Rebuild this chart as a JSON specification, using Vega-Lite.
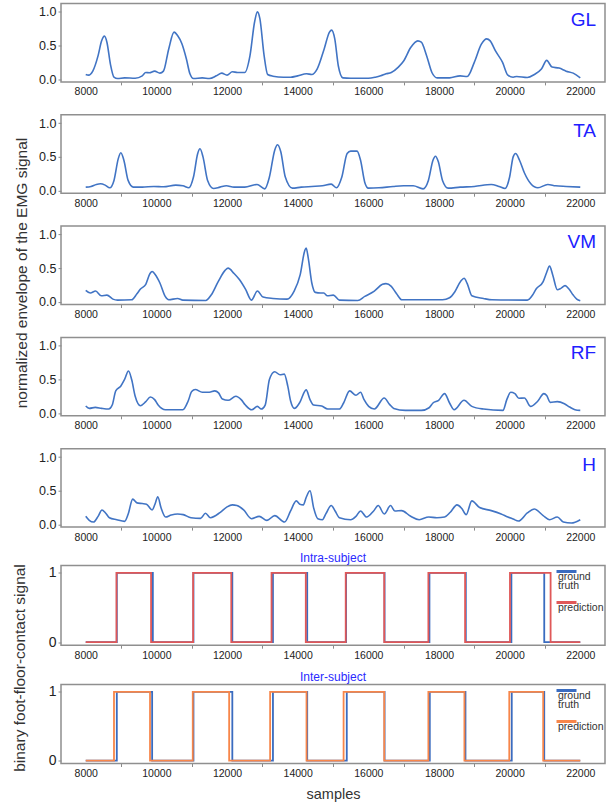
{
  "$schema": "https://vega.github.io/schema/vega-lite/v6.json",
  "background": "white",
  "padding": {"left": 12, "top": 2.5, "right": 0, "bottom": 0},
  "config": {
    "font": "Liberation Sans",
    "view": {"stroke": "#8f8f8f", "strokeWidth": 1.5},
    "axis": {"grid": false, "domain": false, "tickColor": "#8a8a8a", "tickSize": 3, "labelColor": "#222", "labelPadding": 2},
    "axisX": {"labelFontSize": 10.5, "labelOverlap": false, "labelFlush": false},
    "axisY": {"labelFontSize": 12.5},
    "title": {"fontWeight": "normal"},
    "style": {"guide-label": {"lineHeight": 9}}
  },
  "datasets": {
    "emg": [
      {"m":"GL","x":8000,"y":0.07},{"m":"GL","x":8080,"y":0.06},{"m":"GL","x":8200,"y":0.12},{"m":"GL","x":8350,"y":0.35},{"m":"GL","x":8450,"y":0.57},{"m":"GL","x":8530,"y":0.64},{"m":"GL","x":8600,"y":0.55},{"m":"GL","x":8700,"y":0.22},{"m":"GL","x":8800,"y":0.03},{"m":"GL","x":8900,"y":0.01},{"m":"GL","x":9100,"y":0.02},{"m":"GL","x":9400,"y":0.015},{"m":"GL","x":9600,"y":0.05},{"m":"GL","x":9700,"y":0.10},{"m":"GL","x":9800,"y":0.095},{"m":"GL","x":9950,"y":0.12},{"m":"GL","x":10100,"y":0.09},{"m":"GL","x":10200,"y":0.12},{"m":"GL","x":10350,"y":0.45},{"m":"GL","x":10500,"y":0.70},{"m":"GL","x":10600,"y":0.65},{"m":"GL","x":10720,"y":0.53},{"m":"GL","x":10850,"y":0.30},{"m":"GL","x":10950,"y":0.08},{"m":"GL","x":11050,"y":0.01},{"m":"GL","x":11300,"y":0.02},{"m":"GL","x":11500,"y":0.01},{"m":"GL","x":11700,"y":0.05},{"m":"GL","x":11850,"y":0.09},{"m":"GL","x":12000,"y":0.06},{"m":"GL","x":12150,"y":0.11},{"m":"GL","x":12300,"y":0.10},{"m":"GL","x":12500,"y":0.10},{"m":"GL","x":12650,"y":0.35},{"m":"GL","x":12780,"y":0.85},{"m":"GL","x":12860,"y":1.0},{"m":"GL","x":12930,"y":0.9},{"m":"GL","x":13050,"y":0.35},{"m":"GL","x":13150,"y":0.07},{"m":"GL","x":13300,"y":0.045},{"m":"GL","x":13600,"y":0.03},{"m":"GL","x":13800,"y":0.03},{"m":"GL","x":14000,"y":0.05},{"m":"GL","x":14250,"y":0.08},{"m":"GL","x":14400,"y":0.07},{"m":"GL","x":14550,"y":0.15},{"m":"GL","x":14750,"y":0.45},{"m":"GL","x":14900,"y":0.70},{"m":"GL","x":14960,"y":0.73},{"m":"GL","x":15050,"y":0.6},{"m":"GL","x":15150,"y":0.2},{"m":"GL","x":15280,"y":0.02},{"m":"GL","x":15500,"y":0.015},{"m":"GL","x":16000,"y":0.015},{"m":"GL","x":16200,"y":0.03},{"m":"GL","x":16350,"y":0.05},{"m":"GL","x":16500,"y":0.08},{"m":"GL","x":16650,"y":0.10},{"m":"GL","x":16850,"y":0.18},{"m":"GL","x":17000,"y":0.27},{"m":"GL","x":17200,"y":0.47},{"m":"GL","x":17400,"y":0.57},{"m":"GL","x":17500,"y":0.55},{"m":"GL","x":17650,"y":0.35},{"m":"GL","x":17800,"y":0.10},{"m":"GL","x":17950,"y":0.02},{"m":"GL","x":18300,"y":0.02},{"m":"GL","x":18600,"y":0.05},{"m":"GL","x":18800,"y":0.04},{"m":"GL","x":19000,"y":0.25},{"m":"GL","x":19200,"y":0.52},{"m":"GL","x":19350,"y":0.6},{"m":"GL","x":19450,"y":0.57},{"m":"GL","x":19600,"y":0.42},{"m":"GL","x":19800,"y":0.25},{"m":"GL","x":19950,"y":0.06},{"m":"GL","x":20100,"y":0.03},{"m":"GL","x":20200,"y":0.04},{"m":"GL","x":20500,"y":0.025},{"m":"GL","x":20700,"y":0.07},{"m":"GL","x":20900,"y":0.15},{"m":"GL","x":21050,"y":0.28},{"m":"GL","x":21200,"y":0.18},{"m":"GL","x":21400,"y":0.165},{"m":"GL","x":21600,"y":0.12},{"m":"GL","x":21800,"y":0.09},{"m":"GL","x":22000,"y":0.02},

      {"m":"TA","x":8000,"y":0.05},{"m":"TA","x":8150,"y":0.06},{"m":"TA","x":8300,"y":0.09},{"m":"TA","x":8420,"y":0.10},{"m":"TA","x":8550,"y":0.08},{"m":"TA","x":8680,"y":0.04},{"m":"TA","x":8800,"y":0.15},{"m":"TA","x":8920,"y":0.47},{"m":"TA","x":8994,"y":0.56},{"m":"TA","x":9080,"y":0.45},{"m":"TA","x":9200,"y":0.15},{"m":"TA","x":9350,"y":0.05},{"m":"TA","x":9600,"y":0.05},{"m":"TA","x":9930,"y":0.06},{"m":"TA","x":10200,"y":0.055},{"m":"TA","x":10550,"y":0.08},{"m":"TA","x":10750,"y":0.07},{"m":"TA","x":10920,"y":0.04},{"m":"TA","x":11050,"y":0.2},{"m":"TA","x":11170,"y":0.55},{"m":"TA","x":11235,"y":0.62},{"m":"TA","x":11320,"y":0.5},{"m":"TA","x":11450,"y":0.15},{"m":"TA","x":11620,"y":0.03},{"m":"TA","x":11800,"y":0.05},{"m":"TA","x":11980,"y":0.07},{"m":"TA","x":12200,"y":0.05},{"m":"TA","x":12500,"y":0.05},{"m":"TA","x":12850,"y":0.09},{"m":"TA","x":13070,"y":0.025},{"m":"TA","x":13200,"y":0.2},{"m":"TA","x":13350,"y":0.6},{"m":"TA","x":13430,"y":0.68},{"m":"TA","x":13520,"y":0.58},{"m":"TA","x":13650,"y":0.2},{"m":"TA","x":13850,"y":0.035},{"m":"TA","x":14100,"y":0.05},{"m":"TA","x":14400,"y":0.06},{"m":"TA","x":14700,"y":0.07},{"m":"TA","x":14950,"y":0.095},{"m":"TA","x":15100,"y":0.04},{"m":"TA","x":15250,"y":0.2},{"m":"TA","x":15400,"y":0.55},{"m":"TA","x":15500,"y":0.585},{"m":"TA","x":15680,"y":0.585},{"m":"TA","x":15780,"y":0.45},{"m":"TA","x":15900,"y":0.12},{"m":"TA","x":16000,"y":0.035},{"m":"TA","x":16300,"y":0.04},{"m":"TA","x":16700,"y":0.06},{"m":"TA","x":17000,"y":0.07},{"m":"TA","x":17270,"y":0.07},{"m":"TA","x":17550,"y":0.025},{"m":"TA","x":17700,"y":0.15},{"m":"TA","x":17830,"y":0.45},{"m":"TA","x":17900,"y":0.51},{"m":"TA","x":17980,"y":0.43},{"m":"TA","x":18100,"y":0.15},{"m":"TA","x":18260,"y":0.035},{"m":"TA","x":18600,"y":0.05},{"m":"TA","x":19000,"y":0.06},{"m":"TA","x":19480,"y":0.09},{"m":"TA","x":19700,"y":0.06},{"m":"TA","x":19870,"y":0.03},{"m":"TA","x":20000,"y":0.2},{"m":"TA","x":20100,"y":0.5},{"m":"TA","x":20170,"y":0.55},{"m":"TA","x":20280,"y":0.45},{"m":"TA","x":20420,"y":0.26},{"m":"TA","x":20600,"y":0.1},{"m":"TA","x":20800,"y":0.04},{"m":"TA","x":21080,"y":0.09},{"m":"TA","x":21300,"y":0.07},{"m":"TA","x":21600,"y":0.06},{"m":"TA","x":22000,"y":0.05},

      {"m":"VM","x":8000,"y":0.17},{"m":"VM","x":8130,"y":0.13},{"m":"VM","x":8280,"y":0.16},{"m":"VM","x":8440,"y":0.09},{"m":"VM","x":8600,"y":0.10},{"m":"VM","x":8770,"y":0.04},{"m":"VM","x":8900,"y":0.025},{"m":"VM","x":9300,"y":0.03},{"m":"VM","x":9450,"y":0.12},{"m":"VM","x":9550,"y":0.19},{"m":"VM","x":9700,"y":0.26},{"m":"VM","x":9820,"y":0.42},{"m":"VM","x":9880,"y":0.45},{"m":"VM","x":9960,"y":0.41},{"m":"VM","x":10100,"y":0.28},{"m":"VM","x":10250,"y":0.08},{"m":"VM","x":10350,"y":0.03},{"m":"VM","x":10600,"y":0.05},{"m":"VM","x":10750,"y":0.025},{"m":"VM","x":11400,"y":0.02},{"m":"VM","x":11550,"y":0.1},{"m":"VM","x":11750,"y":0.3},{"m":"VM","x":11950,"y":0.47},{"m":"VM","x":12030,"y":0.5},{"m":"VM","x":12200,"y":0.42},{"m":"VM","x":12350,"y":0.33},{"m":"VM","x":12530,"y":0.18},{"m":"VM","x":12690,"y":0.025},{"m":"VM","x":12860,"y":0.16},{"m":"VM","x":13020,"y":0.07},{"m":"VM","x":13300,"y":0.05},{"m":"VM","x":13700,"y":0.04},{"m":"VM","x":13900,"y":0.16},{"m":"VM","x":14070,"y":0.4},{"m":"VM","x":14200,"y":0.76},{"m":"VM","x":14240,"y":0.8},{"m":"VM","x":14300,"y":0.65},{"m":"VM","x":14400,"y":0.28},{"m":"VM","x":14500,"y":0.14},{"m":"VM","x":14650,"y":0.13},{"m":"VM","x":14740,"y":0.13},{"m":"VM","x":14840,"y":0.09},{"m":"VM","x":15010,"y":0.10},{"m":"VM","x":15180,"y":0.025},{"m":"VM","x":15700,"y":0.02},{"m":"VM","x":15900,"y":0.08},{"m":"VM","x":16170,"y":0.16},{"m":"VM","x":16400,"y":0.26},{"m":"VM","x":16500,"y":0.27},{"m":"VM","x":16650,"y":0.23},{"m":"VM","x":16800,"y":0.12},{"m":"VM","x":16950,"y":0.03},{"m":"VM","x":17500,"y":0.03},{"m":"VM","x":18100,"y":0.03},{"m":"VM","x":18300,"y":0.06},{"m":"VM","x":18450,"y":0.15},{"m":"VM","x":18620,"y":0.31},{"m":"VM","x":18710,"y":0.35},{"m":"VM","x":18800,"y":0.27},{"m":"VM","x":18930,"y":0.09},{"m":"VM","x":19260,"y":0.05},{"m":"VM","x":19500,"y":0.03},{"m":"VM","x":20500,"y":0.025},{"m":"VM","x":20650,"y":0.1},{"m":"VM","x":20750,"y":0.19},{"m":"VM","x":20950,"y":0.3},{"m":"VM","x":21050,"y":0.44},{"m":"VM","x":21130,"y":0.53},{"m":"VM","x":21220,"y":0.4},{"m":"VM","x":21350,"y":0.18},{"m":"VM","x":21450,"y":0.2},{"m":"VM","x":21570,"y":0.24},{"m":"VM","x":21680,"y":0.19},{"m":"VM","x":21800,"y":0.1},{"m":"VM","x":21900,"y":0.04},{"m":"VM","x":22000,"y":0.015},

      {"m":"RF","x":8000,"y":0.105},{"m":"RF","x":8100,"y":0.07},{"m":"RF","x":8270,"y":0.085},{"m":"RF","x":8450,"y":0.07},{"m":"RF","x":8650,"y":0.06},{"m":"RF","x":8750,"y":0.12},{"m":"RF","x":8850,"y":0.33},{"m":"RF","x":8990,"y":0.40},{"m":"RF","x":9100,"y":0.5},{"m":"RF","x":9210,"y":0.625},{"m":"RF","x":9300,"y":0.5},{"m":"RF","x":9400,"y":0.25},{"m":"RF","x":9550,"y":0.11},{"m":"RF","x":9700,"y":0.17},{"m":"RF","x":9830,"y":0.24},{"m":"RF","x":9950,"y":0.2},{"m":"RF","x":10050,"y":0.12},{"m":"RF","x":10260,"y":0.05},{"m":"RF","x":10750,"y":0.05},{"m":"RF","x":10900,"y":0.18},{"m":"RF","x":11000,"y":0.32},{"m":"RF","x":11100,"y":0.35},{"m":"RF","x":11300,"y":0.31},{"m":"RF","x":11500,"y":0.31},{"m":"RF","x":11650,"y":0.33},{"m":"RF","x":11760,"y":0.3},{"m":"RF","x":11870,"y":0.21},{"m":"RF","x":12030,"y":0.19},{"m":"RF","x":12250,"y":0.25},{"m":"RF","x":12400,"y":0.2},{"m":"RF","x":12520,"y":0.12},{"m":"RF","x":12700,"y":0.05},{"m":"RF","x":12860,"y":0.1},{"m":"RF","x":12970,"y":0.06},{"m":"RF","x":13080,"y":0.12},{"m":"RF","x":13200,"y":0.5},{"m":"RF","x":13350,"y":0.615},{"m":"RF","x":13500,"y":0.57},{"m":"RF","x":13620,"y":0.58},{"m":"RF","x":13720,"y":0.4},{"m":"RF","x":13800,"y":0.18},{"m":"RF","x":13910,"y":0.07},{"m":"RF","x":14050,"y":0.15},{"m":"RF","x":14240,"y":0.345},{"m":"RF","x":14350,"y":0.2},{"m":"RF","x":14450,"y":0.12},{"m":"RF","x":14680,"y":0.105},{"m":"RF","x":14850,"y":0.06},{"m":"RF","x":15180,"y":0.06},{"m":"RF","x":15300,"y":0.15},{"m":"RF","x":15470,"y":0.33},{"m":"RF","x":15650,"y":0.265},{"m":"RF","x":15780,"y":0.31},{"m":"RF","x":15880,"y":0.2},{"m":"RF","x":16010,"y":0.1},{"m":"RF","x":16170,"y":0.06},{"m":"RF","x":16450,"y":0.225},{"m":"RF","x":16600,"y":0.13},{"m":"RF","x":16720,"y":0.07},{"m":"RF","x":17050,"y":0.04},{"m":"RF","x":17500,"y":0.04},{"m":"RF","x":17720,"y":0.08},{"m":"RF","x":17830,"y":0.15},{"m":"RF","x":17990,"y":0.19},{"m":"RF","x":18160,"y":0.29},{"m":"RF","x":18300,"y":0.15},{"m":"RF","x":18430,"y":0.05},{"m":"RF","x":18710,"y":0.19},{"m":"RF","x":18930,"y":0.1},{"m":"RF","x":19260,"y":0.06},{"m":"RF","x":19810,"y":0.04},{"m":"RF","x":19920,"y":0.2},{"m":"RF","x":20030,"y":0.31},{"m":"RF","x":20150,"y":0.29},{"m":"RF","x":20260,"y":0.22},{"m":"RF","x":20420,"y":0.225},{"m":"RF","x":20590,"y":0.1},{"m":"RF","x":20800,"y":0.18},{"m":"RF","x":20970,"y":0.29},{"m":"RF","x":21050,"y":0.26},{"m":"RF","x":21150,"y":0.16},{"m":"RF","x":21350,"y":0.17},{"m":"RF","x":21550,"y":0.14},{"m":"RF","x":21700,"y":0.09},{"m":"RF","x":21850,"y":0.05},{"m":"RF","x":22000,"y":0.04},

      {"m":"H","x":8000,"y":0.12},{"m":"H","x":8100,"y":0.06},{"m":"H","x":8220,"y":0.035},{"m":"H","x":8350,"y":0.12},{"m":"H","x":8460,"y":0.215},{"m":"H","x":8560,"y":0.17},{"m":"H","x":8670,"y":0.1},{"m":"H","x":8880,"y":0.07},{"m":"H","x":9100,"y":0.045},{"m":"H","x":9200,"y":0.15},{"m":"H","x":9330,"y":0.375},{"m":"H","x":9450,"y":0.32},{"m":"H","x":9600,"y":0.31},{"m":"H","x":9720,"y":0.3},{"m":"H","x":9880,"y":0.215},{"m":"H","x":9960,"y":0.3},{"m":"H","x":10040,"y":0.41},{"m":"H","x":10130,"y":0.25},{"m":"H","x":10260,"y":0.11},{"m":"H","x":10420,"y":0.14},{"m":"H","x":10600,"y":0.155},{"m":"H","x":10760,"y":0.145},{"m":"H","x":10980,"y":0.1},{"m":"H","x":11250,"y":0.09},{"m":"H","x":11390,"y":0.165},{"m":"H","x":11530,"y":0.1},{"m":"H","x":11810,"y":0.18},{"m":"H","x":12000,"y":0.26},{"m":"H","x":12150,"y":0.29},{"m":"H","x":12280,"y":0.28},{"m":"H","x":12470,"y":0.215},{"m":"H","x":12690,"y":0.085},{"m":"H","x":12910,"y":0.12},{"m":"H","x":13130,"y":0.06},{"m":"H","x":13350,"y":0.13},{"m":"H","x":13630,"y":0.035},{"m":"H","x":13800,"y":0.2},{"m":"H","x":13960,"y":0.35},{"m":"H","x":14060,"y":0.3},{"m":"H","x":14160,"y":0.29},{"m":"H","x":14240,"y":0.4},{"m":"H","x":14350,"y":0.5},{"m":"H","x":14450,"y":0.25},{"m":"H","x":14570,"y":0.085},{"m":"H","x":14700,"y":0.07},{"m":"H","x":14800,"y":0.16},{"m":"H","x":14950,"y":0.28},{"m":"H","x":15060,"y":0.2},{"m":"H","x":15180,"y":0.1},{"m":"H","x":15500,"y":0.07},{"m":"H","x":15650,"y":0.12},{"m":"H","x":15780,"y":0.2},{"m":"H","x":15950,"y":0.11},{"m":"H","x":16150,"y":0.2},{"m":"H","x":16280,"y":0.28},{"m":"H","x":16450,"y":0.155},{"m":"H","x":16630,"y":0.28},{"m":"H","x":16750,"y":0.2},{"m":"H","x":16940,"y":0.205},{"m":"H","x":17200,"y":0.12},{"m":"H","x":17440,"y":0.07},{"m":"H","x":17710,"y":0.11},{"m":"H","x":17940,"y":0.1},{"m":"H","x":18160,"y":0.11},{"m":"H","x":18320,"y":0.18},{"m":"H","x":18510,"y":0.29},{"m":"H","x":18640,"y":0.24},{"m":"H","x":18770,"y":0.145},{"m":"H","x":18930,"y":0.35},{"m":"H","x":19150,"y":0.25},{"m":"H","x":19480,"y":0.205},{"m":"H","x":19760,"y":0.155},{"m":"H","x":19950,"y":0.11},{"m":"H","x":20100,"y":0.08},{"m":"H","x":20250,"y":0.05},{"m":"H","x":20500,"y":0.17},{"m":"H","x":20700,"y":0.23},{"m":"H","x":20950,"y":0.13},{"m":"H","x":21130,"y":0.07},{"m":"H","x":21350,"y":0.11},{"m":"H","x":21520,"y":0.035},{"m":"H","x":21750,"y":0.02},{"m":"H","x":22000,"y":0.07}
    ],
    "bin": [
      {"p":"intra","s":"ground truth","x":8000,"v":0},{"p":"intra","s":"ground truth","x":8880,"v":1},{"p":"intra","s":"ground truth","x":9900,"v":0},{"p":"intra","s":"ground truth","x":11050,"v":1},{"p":"intra","s":"ground truth","x":12150,"v":0},{"p":"intra","s":"ground truth","x":13300,"v":1},{"p":"intra","s":"ground truth","x":14270,"v":0},{"p":"intra","s":"ground truth","x":15370,"v":1},{"p":"intra","s":"ground truth","x":16460,"v":0},{"p":"intra","s":"ground truth","x":17730,"v":1},{"p":"intra","s":"ground truth","x":18760,"v":0},{"p":"intra","s":"ground truth","x":20050,"v":1},{"p":"intra","s":"ground truth","x":20980,"v":0},{"p":"intra","s":"ground truth","x":22000,"v":0},
      {"p":"intra","s":"prediction","x":8000,"v":0},{"p":"intra","s":"prediction","x":8870,"v":1},{"p":"intra","s":"prediction","x":9850,"v":0},{"p":"intra","s":"prediction","x":11040,"v":1},{"p":"intra","s":"prediction","x":12120,"v":0},{"p":"intra","s":"prediction","x":13260,"v":1},{"p":"intra","s":"prediction","x":14230,"v":0},{"p":"intra","s":"prediction","x":15360,"v":1},{"p":"intra","s":"prediction","x":16450,"v":0},{"p":"intra","s":"prediction","x":17700,"v":1},{"p":"intra","s":"prediction","x":18740,"v":0},{"p":"intra","s":"prediction","x":20010,"v":1},{"p":"intra","s":"prediction","x":21160,"v":0},{"p":"intra","s":"prediction","x":22000,"v":0},
      {"p":"inter","s":"ground truth","x":8000,"v":0},{"p":"inter","s":"ground truth","x":8880,"v":1},{"p":"inter","s":"ground truth","x":9880,"v":0},{"p":"inter","s":"ground truth","x":11050,"v":1},{"p":"inter","s":"ground truth","x":12150,"v":0},{"p":"inter","s":"ground truth","x":13300,"v":1},{"p":"inter","s":"ground truth","x":14270,"v":0},{"p":"inter","s":"ground truth","x":15390,"v":1},{"p":"inter","s":"ground truth","x":16460,"v":0},{"p":"inter","s":"ground truth","x":17740,"v":1},{"p":"inter","s":"ground truth","x":18750,"v":0},{"p":"inter","s":"ground truth","x":20060,"v":1},{"p":"inter","s":"ground truth","x":20980,"v":0},{"p":"inter","s":"ground truth","x":22000,"v":0},
      {"p":"inter","s":"prediction","x":8000,"v":0},{"p":"inter","s":"prediction","x":8800,"v":1},{"p":"inter","s":"prediction","x":9820,"v":0},{"p":"inter","s":"prediction","x":11030,"v":1},{"p":"inter","s":"prediction","x":12060,"v":0},{"p":"inter","s":"prediction","x":13220,"v":1},{"p":"inter","s":"prediction","x":14250,"v":0},{"p":"inter","s":"prediction","x":15300,"v":1},{"p":"inter","s":"prediction","x":16450,"v":0},{"p":"inter","s":"prediction","x":17700,"v":1},{"p":"inter","s":"prediction","x":18720,"v":0},{"p":"inter","s":"prediction","x":19990,"v":1},{"p":"inter","s":"prediction","x":20950,"v":0},{"p":"inter","s":"prediction","x":22000,"v":0}
    ]
  },
  "vconcat": [
    {
      "title": {"text": "normalized envelope of the EMG signal", "orient": "left", "anchor": "middle", "offset": 7, "fontSize": 15.5, "font": "Liberation Sans", "fontWeight": "normal", "color": "#333333"},
      "spacing": 15.3,
      "vconcat": [
        {
          "width": 544, "height": 78.4,
          "title": {"text": "GL", "orient": "top", "anchor": "end", "frame": "group", "offset": -41, "baseline": "alphabetic", "dx": -9, "fontSize": 19, "color": "#2020ff"},
          "data": {"name": "emg"},
          "transform": [{"filter": "datum.m == 'GL'"}],
          "mark": {"type": "line", "interpolate": "monotone", "color": "#4174c4", "strokeWidth": 1.6},
          "encoding": {
            "x": {"field": "x", "type": "quantitative", "scale": {"domain": [7300, 22700], "nice": false, "zero": false}, "axis": {"title": null, "values": [8000,9000,10000,11000,12000,13000,14000,15000,16000,17000,18000,19000,20000,21000,22000], "format": "d", "labelExpr": "datum.value % 2000 === 0 ? datum.label : ''", "tickColor": {"condition": {"test": "datum.value % 2000 === 0", "value": "transparent"}, "value": "#8a8a8a"}}},
            "y": {"field": "y", "type": "quantitative", "scale": {"domain": [-0.04, 1.125], "nice": false, "zero": false}, "axis": {"title": null, "values": [0, 0.5, 1], "format": ".1f"}}
          }
        },
        {
          "width": 544, "height": 78.4,
          "title": {"text": "TA", "orient": "top", "anchor": "end", "frame": "group", "offset": -41, "baseline": "alphabetic", "dx": -9, "fontSize": 19, "color": "#2020ff"},
          "data": {"name": "emg"},
          "transform": [{"filter": "datum.m == 'TA'"}],
          "mark": {"type": "line", "interpolate": "monotone", "color": "#4174c4", "strokeWidth": 1.6},
          "encoding": {
            "x": {"field": "x", "type": "quantitative", "scale": {"domain": [7300, 22700], "nice": false, "zero": false}, "axis": {"title": null, "values": [8000,9000,10000,11000,12000,13000,14000,15000,16000,17000,18000,19000,20000,21000,22000], "format": "d", "labelExpr": "datum.value % 2000 === 0 ? datum.label : ''", "tickColor": {"condition": {"test": "datum.value % 2000 === 0", "value": "transparent"}, "value": "#8a8a8a"}}},
            "y": {"field": "y", "type": "quantitative", "scale": {"domain": [-0.04, 1.125], "nice": false, "zero": false}, "axis": {"title": null, "values": [0, 0.5, 1], "format": ".1f"}}
          }
        },
        {
          "width": 544, "height": 78.4,
          "title": {"text": "VM", "orient": "top", "anchor": "end", "frame": "group", "offset": -41, "baseline": "alphabetic", "dx": -9, "fontSize": 19, "color": "#2020ff"},
          "data": {"name": "emg"},
          "transform": [{"filter": "datum.m == 'VM'"}],
          "mark": {"type": "line", "interpolate": "monotone", "color": "#4174c4", "strokeWidth": 1.6},
          "encoding": {
            "x": {"field": "x", "type": "quantitative", "scale": {"domain": [7300, 22700], "nice": false, "zero": false}, "axis": {"title": null, "values": [8000,9000,10000,11000,12000,13000,14000,15000,16000,17000,18000,19000,20000,21000,22000], "format": "d", "labelExpr": "datum.value % 2000 === 0 ? datum.label : ''", "tickColor": {"condition": {"test": "datum.value % 2000 === 0", "value": "transparent"}, "value": "#8a8a8a"}}},
            "y": {"field": "y", "type": "quantitative", "scale": {"domain": [-0.04, 1.125], "nice": false, "zero": false}, "axis": {"title": null, "values": [0, 0.5, 1], "format": ".1f"}}
          }
        },
        {
          "width": 544, "height": 78.4,
          "title": {"text": "RF", "orient": "top", "anchor": "end", "frame": "group", "offset": -41, "baseline": "alphabetic", "dx": -9, "fontSize": 19, "color": "#2020ff"},
          "data": {"name": "emg"},
          "transform": [{"filter": "datum.m == 'RF'"}],
          "mark": {"type": "line", "interpolate": "monotone", "color": "#4174c4", "strokeWidth": 1.6},
          "encoding": {
            "x": {"field": "x", "type": "quantitative", "scale": {"domain": [7300, 22700], "nice": false, "zero": false}, "axis": {"title": null, "values": [8000,9000,10000,11000,12000,13000,14000,15000,16000,17000,18000,19000,20000,21000,22000], "format": "d", "labelExpr": "datum.value % 2000 === 0 ? datum.label : ''", "tickColor": {"condition": {"test": "datum.value % 2000 === 0", "value": "transparent"}, "value": "#8a8a8a"}}},
            "y": {"field": "y", "type": "quantitative", "scale": {"domain": [-0.04, 1.125], "nice": false, "zero": false}, "axis": {"title": null, "values": [0, 0.5, 1], "format": ".1f"}}
          }
        },
        {
          "width": 544, "height": 78.4,
          "title": {"text": "H", "orient": "top", "anchor": "end", "frame": "group", "offset": -41, "baseline": "alphabetic", "dx": -9, "fontSize": 19, "color": "#2020ff"},
          "data": {"name": "emg"},
          "transform": [{"filter": "datum.m == 'H'"}],
          "mark": {"type": "line", "interpolate": "monotone", "color": "#4174c4", "strokeWidth": 1.6},
          "encoding": {
            "x": {"field": "x", "type": "quantitative", "scale": {"domain": [7300, 22700], "nice": false, "zero": false}, "axis": {"title": null, "values": [8000,9000,10000,11000,12000,13000,14000,15000,16000,17000,18000,19000,20000,21000,22000], "format": "d", "labelExpr": "datum.value % 2000 === 0 ? datum.label : ''", "tickColor": {"condition": {"test": "datum.value % 2000 === 0", "value": "transparent"}, "value": "#8a8a8a"}}},
            "y": {"field": "y", "type": "quantitative", "scale": {"domain": [-0.04, 1.125], "nice": false, "zero": false}, "axis": {"title": null, "values": [0, 0.5, 1], "format": ".1f"}}
          }
        }
      ]
    },
    {
      "title": {"text": "binary foot-floor-contact signal", "orient": "left", "anchor": "middle", "offset": 19, "dx": 8, "fontSize": 15.5, "font": "Liberation Sans", "fontWeight": "normal", "color": "#333333"},
      "spacing": 8,
      "resolve": {"scale": {"color": "independent"}, "legend": {"color": "independent"}},
      "vconcat": [
        {
          "width": 544, "height": 79.7,
          "title": {"text": "Intra-subject", "orient": "top", "anchor": "middle", "frame": "group", "offset": -4.5, "fontSize": 12, "color": "#2a2aff"},
          "data": {"name": "bin"},
          "transform": [{"filter": "datum.p == 'intra'"}],
          "mark": {"type": "line", "interpolate": "step-after", "strokeWidth": 1.8},
          "encoding": {
            "x": {"field": "x", "type": "quantitative", "scale": {"domain": [7300, 22700], "nice": false, "zero": false}, "axis": {"title": null, "values": [8000,9000,10000,11000,12000,13000,14000,15000,16000,17000,18000,19000,20000,21000,22000], "format": "d", "labelExpr": "datum.value % 2000 === 0 ? datum.label : ''", "tickColor": {"condition": {"test": "datum.value % 2000 === 0", "value": "transparent"}, "value": "#8a8a8a"}}},
            "y": {"field": "v", "type": "quantitative", "scale": {"domain": [-0.043, 1.107], "nice": false, "zero": false}, "axis": {"title": null, "values": [0, 1], "format": "d", "labelFontSize": 14}},
            "color": {"field": "s", "type": "nominal", "scale": {"domain": ["ground truth", "prediction"], "range": ["#3a6cc0", "#e05858"]}, "legend": {"title": null, "orient": "none", "legendX": 494, "legendY": -5.5, "padding": 0, "symbolType": "stroke", "symbolSize": 400, "symbolStrokeWidth": 3, "labelOffset": -20, "labelBaseline": "top", "labelFontSize": 10.5, "labelColor": "#333", "rowPadding": 0, "labelExpr": "datum.label == 'ground truth' ? ['ground', 'truth'] : datum.label"}}
          }
        },
        {
          "width": 544, "height": 79,
          "title": {"text": "Inter-subject", "orient": "top", "anchor": "middle", "frame": "group", "offset": -4.5, "fontSize": 12, "color": "#2a2aff"},
          "data": {"name": "bin"},
          "transform": [{"filter": "datum.p == 'inter'"}],
          "mark": {"type": "line", "interpolate": "step-after", "strokeWidth": 1.8},
          "encoding": {
            "x": {"field": "x", "type": "quantitative", "scale": {"domain": [7300, 22700], "nice": false, "zero": false}, "axis": {"title": "samples", "titleFontSize": 14.5, "titleFontWeight": "normal", "titleColor": "#333333", "titlePadding": 8, "values": [8000,9000,10000,11000,12000,13000,14000,15000,16000,17000,18000,19000,20000,21000,22000], "format": "d", "labelExpr": "datum.value % 2000 === 0 ? datum.label : ''", "tickColor": {"condition": {"test": "datum.value % 2000 === 0", "value": "transparent"}, "value": "#8a8a8a"}}},
            "y": {"field": "v", "type": "quantitative", "scale": {"domain": [-0.043, 1.107], "nice": false, "zero": false}, "axis": {"title": null, "values": [0, 1], "format": "d", "labelFontSize": 14}},
            "color": {"field": "s", "type": "nominal", "scale": {"domain": ["ground truth", "prediction"], "range": ["#3a6cc0", "#f7864a"]}, "legend": {"title": null, "orient": "none", "legendX": 494, "legendY": -5.5, "padding": 0, "symbolType": "stroke", "symbolSize": 400, "symbolStrokeWidth": 3, "labelOffset": -20, "labelBaseline": "top", "labelFontSize": 10.5, "labelColor": "#333", "rowPadding": 0, "labelExpr": "datum.label == 'ground truth' ? ['ground', 'truth'] : datum.label"}}
          }
        }
      ]
    }
  ],
  "spacing": 7
}
